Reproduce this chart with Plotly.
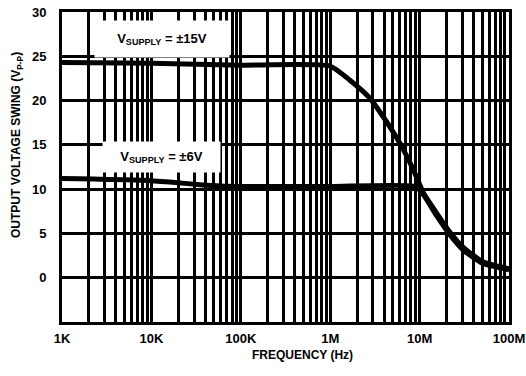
import plotly.graph_objects as go

# Data
freq_15 = [1e3, 1e4, 1e5, 1e6, 1.66e6, 2.7e6, 3.9e6, 6e6, 8.5e6, 1.1e7, 1.55e7, 2.2e7, 3.1e7, 5.1e7, 1e8]
vout_15 = [24.3, 24.2, 24.0, 23.9, 22.3, 20.4, 18.2, 15.2, 12.2, 9.6, 7.3, 5.1, 3.4, 1.8, 1.0]

freq_6 = [1e3, 8e3, 1.6e4, 3.5e4, 6e4, 1e5, 1e6, 9e6, 1.1e7, 1.55e7, 2.2e7, 3.1e7, 5.1e7, 1e8]
vout_6 = [11.2, 11.0, 10.8, 10.5, 10.35, 10.3, 10.3, 10.3, 9.4, 7.0, 4.8, 3.1, 1.6, 0.9]

x_tickvals = [1e3, 1e4, 1e5, 1e6, 1e7, 1e8]
x_ticktext = ["1K", "10K", "100K", "1M", "10M", "100M"]
y_tickvals = [0, 5, 10, 15, 20, 25, 30]
y_ticktext = ["0", "5", "10", "15", "20", "25", "30"]

FONT = "Liberation Sans"

fig = go.Figure()
fig.add_trace(go.Scatter(x=freq_15, y=vout_15, mode="lines",
                         line=dict(color="black", width=5, shape="spline", smoothing=0.5),
                         showlegend=False, hoverinfo="skip"))
fig.add_trace(go.Scatter(x=freq_6, y=vout_6, mode="lines",
                         line=dict(color="black", width=5, shape="spline", smoothing=0.5),
                         showlegend=False, hoverinfo="skip"))

L, R, T, B = 62, 17, 12, 54
W, H = 526, 376
pw, ph = W - L - R, H - T - B

def px2x(px):
    return 3 + (px - L) / pw * 5

def px2y(py):
    return 30 - (py - T) / ph * 35

fig.update_layout(
    width=W, height=H,
    margin=dict(l=L, r=R, t=T, b=B, autoexpand=False),
    paper_bgcolor="white", plot_bgcolor="white",
    font=dict(family=FONT, color="black", size=13, weight="bold"),
    xaxis=dict(type="log", range=[3, 8], tickvals=x_tickvals, ticktext=x_ticktext,
               showgrid=True, gridcolor="black", gridwidth=3, automargin=False,
               minor=dict(showgrid=True, dtick="D1", gridcolor="black", gridwidth=2.5),
               showline=True, linecolor="black", linewidth=3, mirror=True,
               ticks="", ticklabelstandoff=2, zeroline=False,
               tickfont=dict(family=FONT, size=13, weight="bold")),
    yaxis=dict(range=[-5, 30], tickvals=y_tickvals, ticktext=y_ticktext,
               showgrid=True, gridcolor="black", gridwidth=3, automargin=False,
               showline=True, linecolor="black", linewidth=3, mirror=True,
               ticks="", ticklabelstandoff=10, zeroline=False,
               tickfont=dict(family=FONT, size=13, weight="bold")),
)

# label boxes
fig.add_annotation(x=px2x(162), y=px2y(39), xref="x", yref="y",
                   text="V<sub>SUPPLY</sub> = ±15V", showarrow=False,
                   bgcolor="white", width=132, height=34,
                   font=dict(family=FONT, size=13, weight="bold", color="black"))
fig.add_annotation(x=px2x(161), y=px2y(157), xref="x", yref="y",
                   text="V<sub>SUPPLY</sub> = ±6V", showarrow=False,
                   bgcolor="white", width=115, height=28,
                   font=dict(family=FONT, size=13, weight="bold", color="black"))

# axis titles
fig.add_annotation(x=(17 - L) / pw, y=(H - B - 145) / ph, xref="paper", yref="paper",
                   xanchor="center", yanchor="middle",
                   text="OUTPUT VOLTAGE SWING (V<sub>P-P</sub>)", showarrow=False,
                   textangle=-90, font=dict(family=FONT, size=12, weight="bold", color="black"))
fig.add_annotation(x=(302 - L) / pw, y=(H - B - 355) / ph, xref="paper", yref="paper",
                   xanchor="center", yanchor="middle",
                   text="FREQUENCY (Hz)", showarrow=False,
                   font=dict(family=FONT, size=12, weight="bold", color="black"))

fig.write_html("out.html",
               config={"displayModeBar": False},
               post_script="document.body.style.margin='0';document.body.style.padding='0';")
